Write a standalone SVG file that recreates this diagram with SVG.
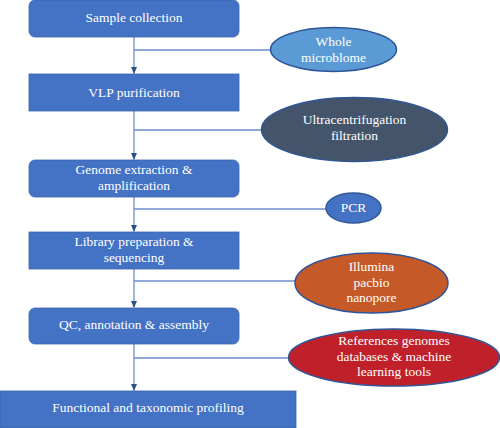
<svg xmlns="http://www.w3.org/2000/svg" width="500" height="428" viewBox="0 0 500 428">
<defs>
<style>
.box{fill:#4472C4;stroke:#3A64B0;stroke-width:0.8}
.t{font-family:'Liberation Serif','DejaVu Serif',serif;font-size:13.5px;fill:#ffffff;text-anchor:middle}
.conn{stroke:#6E8ECB;stroke-width:1.3;fill:none}
.ell{stroke:#2F5597;stroke-width:1.5}
</style>
<marker id="ah" markerWidth="7" markerHeight="6" refX="6.5" refY="3" orient="auto" markerUnits="userSpaceOnUse">
<path d="M0,0 L7,3 L0,6 Z" fill="#2F4E8C"/>
</marker>
</defs>
<rect width="500" height="428" fill="#ffffff"/>
<g id="connectors">
<line class="conn" x1="134" y1="37" x2="134" y2="73.5" marker-end="url(#ah)"/>
<line class="conn" x1="134" y1="50" x2="270" y2="50"/>
<line class="conn" x1="134" y1="111" x2="134" y2="159.5" marker-end="url(#ah)"/>
<line class="conn" x1="134" y1="130" x2="261" y2="130"/>
<line class="conn" x1="134" y1="197" x2="134" y2="231.5" marker-end="url(#ah)"/>
<line class="conn" x1="134" y1="209" x2="326" y2="209"/>
<line class="conn" x1="134" y1="269" x2="134" y2="307.5" marker-end="url(#ah)"/>
<line class="conn" x1="134" y1="281" x2="295" y2="281"/>
<line class="conn" x1="134" y1="344" x2="134" y2="390.5" marker-end="url(#ah)"/>
<line class="conn" x1="134" y1="358" x2="288" y2="358"/>
</g>
<g id="n1"><rect class="box" x="29" y="0" width="210" height="37" rx="6"/><text class="t" x="134" y="22.3">Sample collection</text></g>
<g id="n2"><rect class="box" x="29" y="74" width="210" height="37"/><text class="t" x="134" y="96.7">VLP purification</text></g>
<g id="n3"><rect class="box" x="29" y="160" width="210" height="37" rx="6"/><text class="t" x="134" y="174">Genome extraction &amp;</text><text class="t" x="134" y="189.5">amplification</text></g>
<g id="n4"><rect class="box" x="29" y="232" width="210" height="37"/><text class="t" x="134" y="246">Library preparation &amp;</text><text class="t" x="134" y="261.7">sequencing</text></g>
<g id="n5"><rect class="box" x="29" y="308" width="210" height="36" rx="6"/><text class="t" x="134" y="329.3">QC, annotation &amp; assembly</text></g>
<g id="n6"><rect class="box" x="0" y="391" width="296" height="37"/><text class="t" x="148" y="411.7">Functional and taxonomic profiling</text></g>
<g id="e1"><ellipse class="ell" cx="333.5" cy="49.5" rx="63" ry="22" fill="#5B9BD5"/><text class="t" x="333.5" y="45.7">Whole</text><text class="t" x="333.5" y="61.7">microblome</text></g>
<g id="e2"><ellipse class="ell" cx="354.5" cy="129.5" rx="93" ry="32" fill="#44546A"/><text class="t" x="354.5" y="124.3">Ultracentrifugation</text><text class="t" x="354.5" y="140">filtration</text></g>
<g id="e3"><ellipse class="ell" cx="353.5" cy="208" rx="27.5" ry="15" fill="#4472C4"/><text class="t" x="353.5" y="211.7">PCR</text></g>
<g id="e4"><ellipse class="ell" cx="371.5" cy="283" rx="76.5" ry="30" fill="#C55A28"/><text class="t" x="371.5" y="270.7">Illumina</text><text class="t" x="371.5" y="286.5">pacbio</text><text class="t" x="371.5" y="302.3">nanopore</text></g>
<g id="e5"><ellipse class="ell" cx="394" cy="357.5" rx="105.5" ry="28.5" fill="#C0202A"/><text class="t" x="394" y="345">References genomes</text><text class="t" x="394" y="360.7">databases &amp; machine</text><text class="t" x="394" y="376">learning tools</text></g>
</svg>
